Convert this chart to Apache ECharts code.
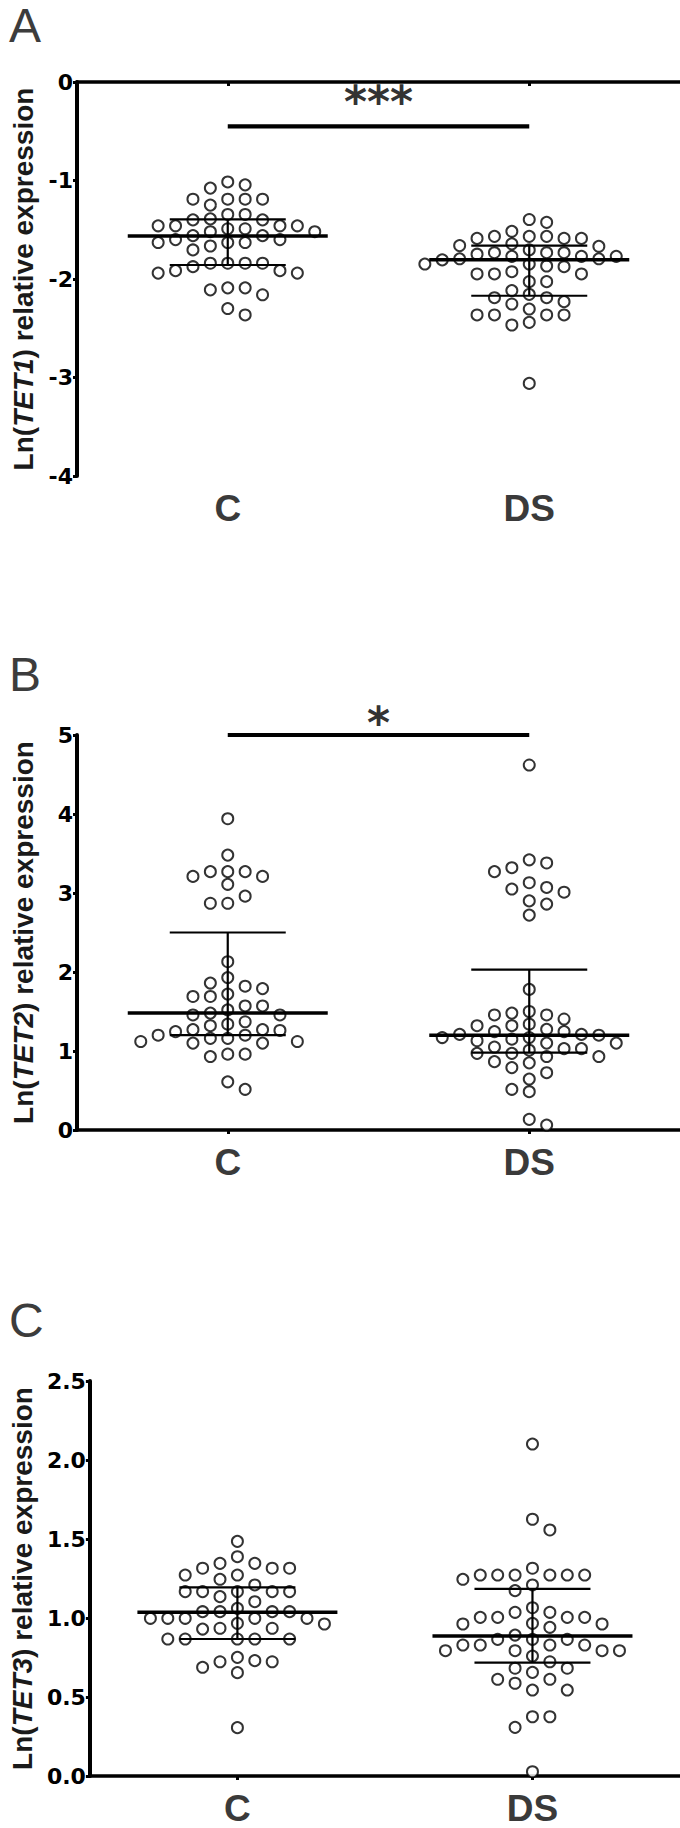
<!DOCTYPE html>
<html>
<head>
<meta charset="utf-8">
<script src="https://cdn.jsdelivr.net/npm/echarts@6.0.0/dist/echarts.min.js"></script>
<style>
html,body{margin:0;padding:0;background:#ffffff;}
#chart{width:680px;height:1828px;}
</style>
</head>
<body>
<div id="chart"></div>
<script>
// ---------------- data ----------------
const categories = ['C', 'DS'];
const panelLetters = ['A', 'B', 'C'];
const genes = ['TET1', 'TET2', 'TET3'];
const sigLabels = ['***', '*', ''];

const tet1Ticks = [-4, -3, -2, -1, 0];
const tet2Ticks = [0, 1, 2, 3, 4, 5];
const tet3Ticks = [0.0, 0.5, 1.0, 1.5, 2.0, 2.5];

const tet1C = [-1.015, -1.077, -1.044, -1.19, -1.19, -1.19, -1.19, -1.25, -1.345, -1.345,
  -1.39, -1.40, -1.40, -1.46, -1.46, -1.46, -1.46, -1.49, -1.49, -1.52, -1.52, -1.56, -1.56,
  -1.60, -1.60, -1.63, -1.63, -1.63, -1.665, -1.705, -1.84, -1.84, -1.84, -1.84, -1.875,
  -1.915, -1.915, -1.94, -1.94, -2.09, -2.09, -2.11, -2.16, -2.30, -2.365];
const tet1DS = [-1.396, -1.425, -1.516, -1.567, -1.567, -1.567, -1.588, -1.588, -1.588,
  -1.643, -1.661, -1.668, -1.705, -1.733, -1.733, -1.733, -1.748, -1.77, -1.77, -1.77,
  -1.795, -1.795, -1.806, -1.848, -1.848, -1.868, -1.875, -1.926, -1.949, -1.949, -1.949,
  -2.027, -2.027, -2.118, -2.156, -2.19, -2.19, -2.23, -2.254, -2.305, -2.365, -2.365,
  -2.365, -2.365, -2.44, -2.467, -3.06];
const tet1Median = [-1.563, -1.805];
const tet1Q1 = [-1.858, -2.17];
const tet1Q3 = [-1.394, -1.661];
const tet1SigBar = -0.45;
const tet1SigText = -0.128;

const tet2C = [3.94, 3.48, 3.27, 3.27, 3.27, 3.21, 3.21, 3.11, 2.96, 2.87, 2.87, 2.13, 1.93,
  1.82, 1.86, 1.72, 1.69, 1.69, 1.79, 1.57, 1.52, 1.456, 1.456, 1.48, 1.57, 1.37, 1.32, 1.26,
  1.245, 1.20, 1.16, 1.16, 1.20, 1.27, 1.27, 1.34, 1.12, 1.10, 1.10, 1.12, 0.96, 0.93, 0.96,
  0.515, 0.61];
const tet2DS = [4.62, 3.42, 3.32, 3.27, 3.38, 3.13, 3.07, 3.01, 3.05, 2.86, 2.90, 2.72, 1.78,
  1.50, 1.456, 1.456, 1.48, 1.405, 1.34, 1.32, 1.32, 1.275, 1.245, 1.245, 1.21, 1.20, 1.21,
  1.15, 1.17, 1.17, 1.10, 1.13, 1.05, 1.10, 1.03, 1.03, 1.01, 0.97, 0.93, 0.97, 0.93, 0.85,
  0.865, 0.79, 0.725, 0.645, 0.515, 0.485, 0.135, 0.063];
const tet2Median = [1.48, 1.20];
const tet2Q1 = [1.20, 0.98];
const tet2Q3 = [2.50, 2.03];
const tet2SigBar = 5.0;
const tet2SigText = 5.25;

const tet3C = [1.485, 1.388, 1.346, 1.346, 1.315, 1.315, 1.315, 1.272, 1.272, 1.245, 1.209,
  1.167, 1.167, 1.167, 1.167, 1.167, 1.135, 1.103, 1.061, 1.04, 1.04, 1.04, 1.04, 0.998,
  0.998, 0.998, 0.998, 0.998, 0.962, 0.930, 0.935, 0.935, 0.966, 0.867, 0.867, 0.867, 0.867,
  0.867, 0.751, 0.723, 0.688, 0.654, 0.723, 0.730, 0.306];
const tet3DS = [2.101, 1.625, 1.557, 1.272, 1.272, 1.272, 1.272, 1.272, 1.272, 1.245, 1.315,
  1.209, 1.173, 1.065, 1.036, 1.004, 1.004, 0.962, 0.962, 0.966, 1.004, 1.004, 1.036, 0.941,
  0.892, 0.865, 0.865, 0.865, 0.829, 0.829, 0.829, 0.829, 0.793, 0.793, 0.793, 0.793, 0.759,
  0.723, 0.682, 0.656, 0.682, 0.612, 0.587, 0.544, 0.544, 0.612, 0.375, 0.375, 0.308, 0.027];
const tet3Median = [1.036, 0.886];
const tet3Q1 = [0.867, 0.717];
const tet3Q3 = [1.194, 1.184];

// ---------------- layout / style ----------------
const FONT = "'Liberation Sans', Arial, sans-serif";
const TICKFONT = "'DejaVu Sans', 'Liberation Sans', sans-serif";
const SLOT_PX = 17.4;      // beeswarm column spacing
const MIN_DY_PX = 12.5;    // min vertical distance in a column
const MED_HALF_PX = 100;
const CAP_HALF_PX = 58;

const panels = [
  { ticks: tet1Ticks, groups: [tet1C, tet1DS], med: tet1Median, q1: tet1Q1, q3: tet1Q3, sigBar: tet1SigBar, sigText: tet1SigText, dec: 0 },
  { ticks: tet2Ticks, groups: [tet2C, tet2DS], med: tet2Median, q1: tet2Q1, q3: tet2Q3, sigBar: tet2SigBar, sigText: tet2SigText, dec: 0 },
  { ticks: tet3Ticks, groups: [tet3C, tet3DS], med: tet3Median, q1: tet3Q1, q3: tet3Q3, sigBar: null, sigText: null, dec: 1 }
];
const gridTops = [82, 735, 1381];
const gridHeights = [394, 395, 395];
const letterTops = [1, 650, 1296];

const chart = echarts.init(document.getElementById('chart'), null, { renderer: 'svg' });

const grid = [], xAxis = [], yAxis = [], series = [], graphic = [];

panels.forEach((p, i) => {
  grid.push({ left: 77, right: 0, top: gridTops[i], height: gridHeights[i], containLabel: false });
  xAxis.push({
    type: 'category', gridIndex: i, data: categories, boundaryGap: true,
    axisLine: { show: true, lineStyle: { color: '#000', width: 3.6 } },
    axisTick: { show: true, alignWithLabel: true, length: 4, lineStyle: { color: '#000', width: 3 } },
    axisLabel: { margin: 14, fontFamily: FONT, fontWeight: 'bold', fontSize: 37, lineHeight: 37, color: '#3a3a3a' },
    splitLine: { show: false }
  });
  xAxis.push({ type: 'value', gridIndex: i, min: 0.5, max: 2.5, show: false });
  const tmin = p.ticks[0], tmax = p.ticks[p.ticks.length - 1];
  yAxis.push({
    type: 'value', gridIndex: i, min: tmin, max: tmax, interval: p.ticks[1] - p.ticks[0],
    name: '{n|Ln(}{i|' + genes[i] + '}{n|) relative expression}',
    nameLocation: 'middle', nameGap: 40, nameRotate: 90,
    nameTextStyle: {
      fontFamily: FONT, fontSize: 28, fontWeight: 'bold', color: '#1a1a1a',
      rich: {
        n: { fontFamily: FONT, fontSize: 28, fontWeight: 'bold', color: '#1a1a1a' },
        i: { fontFamily: FONT, fontSize: 28, fontWeight: 'bold', color: '#1a1a1a', fontStyle: 'italic' }
      }
    },
    axisLine: { show: true, onZero: false, lineStyle: { color: '#000', width: 4 } },
    axisTick: { show: true, length: 4, lineStyle: { color: '#000', width: 3 } },
    axisLabel: {
      margin: 4, fontFamily: TICKFONT, fontWeight: 'bold', fontSize: 22, color: '#000',
      formatter: v => Number(v).toFixed(p.dec)
    },
    splitLine: { show: false }
  });
  p.groups.forEach((vals, g) => {
    series.push({
      type: 'scatter', xAxisIndex: 2 * i + 1, yAxisIndex: i, z: 2,
      symbol: 'circle', symbolSize: 11,
      itemStyle: { color: '#fff', borderColor: '#000', borderWidth: 2 },
      data: vals.map(v => [g + 1, v]),
      silent: true
    });
  });
  series.push({
    type: 'custom', xAxisIndex: 2 * i + 1, yAxisIndex: i, z: 5, silent: true,
    encode: { x: 0, y: 1 },
    data: categories.map((c, g) => [g + 1, p.med[g], p.q1[g], p.q3[g]]),
    renderItem: (params, api) => {
      const gx = api.value(0);
      const c = api.coord([gx, api.value(1)]);
      const lo = api.coord([gx, api.value(2)]);
      const hi = api.coord([gx, api.value(3)]);
      const thin = { stroke: '#000', lineWidth: 2.2 };
      return { type: 'group', children: [
        { type: 'line', shape: { x1: lo[0], y1: lo[1], x2: hi[0], y2: hi[1] }, style: thin },
        { type: 'line', shape: { x1: lo[0] - CAP_HALF_PX, y1: lo[1], x2: lo[0] + CAP_HALF_PX, y2: lo[1] }, style: thin },
        { type: 'line', shape: { x1: hi[0] - CAP_HALF_PX, y1: hi[1], x2: hi[0] + CAP_HALF_PX, y2: hi[1] }, style: thin },
        { type: 'line', shape: { x1: c[0] - MED_HALF_PX, y1: c[1], x2: c[0] + MED_HALF_PX, y2: c[1] }, style: { stroke: '#000', lineWidth: 3.5 } }
      ] };
    }
  });
  if (p.sigBar !== null) {
    series.push({
      type: 'custom', xAxisIndex: 2 * i + 1, yAxisIndex: i, z: 5, silent: true, clip: false,
      encode: { x: 0, y: 2 },
      data: [[1, 2, p.sigBar, p.sigText]],
      renderItem: (params, api) => {
        const a = api.coord([api.value(0), api.value(2)]);
        const b = api.coord([api.value(1), api.value(2)]);
        const t = api.coord([(api.value(0) + api.value(1)) / 2, api.value(3)]);
        return { type: 'group', children: [
          { type: 'line', shape: { x1: a[0], y1: a[1], x2: b[0], y2: b[1] }, style: { stroke: '#000', lineWidth: 4.2 } },
          { type: 'text', x: t[0], y: t[1] + 7, style: { text: sigLabels[i], font: "bold 44px 'DejaVu Sans', sans-serif", fill: '#333', align: 'center', verticalAlign: 'middle' } }
        ] };
      }
    });
  }
  graphic.push({ type: 'text', left: 9, top: letterTops[i], style: { text: panelLetters[i], font: "48px " + FONT, fill: '#3c3c3c' } });
});

chart.setOption({ animation: false, backgroundColor: '#fff', grid, xAxis, yAxis, series, graphic });

// beeswarm placement computed through the chart's own scales
function swarm(values, seriesIndex, gx) {
  const p0 = chart.convertToPixel({ seriesIndex }, [1, 0]);
  const p1 = chart.convertToPixel({ seriesIndex }, [2, 1]);
  const pxX = Math.abs(p1[0] - p0[0]);
  const pxY = Math.abs(p1[1] - p0[1]);
  const order = values.map((v, k) => k).sort((a, b) => values[b] - values[a]);
  const last = {};
  const out = new Array(values.length);
  let nLeft = 0, nRight = 0, toggle = 1;
  const free = (s, v) => last[s] === undefined || (last[s] - v) * pxY >= MIN_DY_PX;
  order.forEach(k => {
    const v = values[k];
    let chosen = null;
    for (let d = 0; d < 30 && chosen === null; d++) {
      if (d === 0) { if (free(0, v)) chosen = 0; continue; }
      const fl = free(-d, v), fr = free(d, v);
      if (fl && fr) {
        if (nLeft < nRight) chosen = -d;
        else if (nRight < nLeft) chosen = d;
        else { chosen = toggle * d; toggle = -toggle; }
      } else if (fl) chosen = -d;
      else if (fr) chosen = d;
    }
    if (chosen < 0) nLeft++; else if (chosen > 0) nRight++;
    last[chosen] = v;
    out[k] = [gx + chosen * SLOT_PX / pxX, v];
  });
  return out;
}

const update = [];
let si = 0;
panels.forEach((p, i) => {
  p.groups.forEach((vals, g) => {
    update[si] = { data: swarm(vals, si, g + 1) };
    si++;
  });
  update[si++] = {};
  if (p.sigBar !== null) update[si++] = {};
});
chart.setOption({ series: update });
</script>
</body>
</html>
